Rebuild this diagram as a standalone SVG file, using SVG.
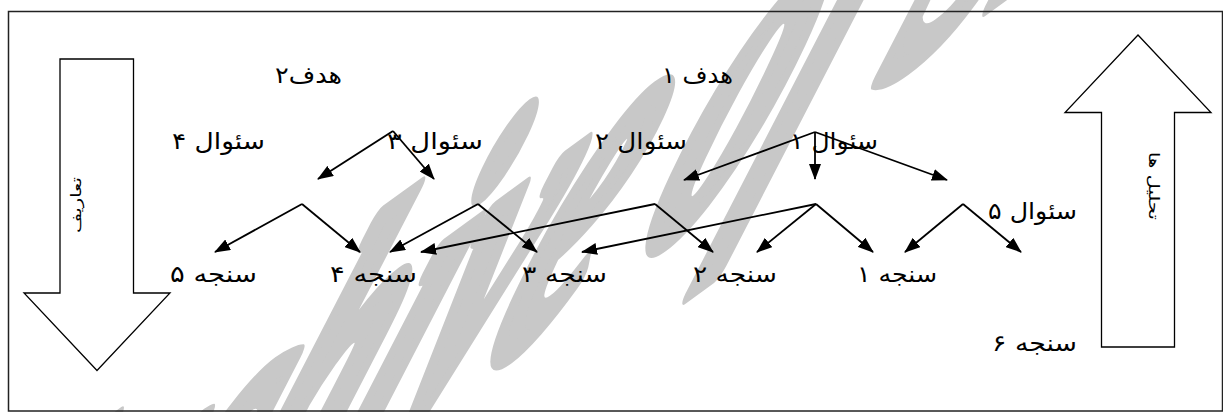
<svg xmlns="http://www.w3.org/2000/svg" width="1223" height="412" viewBox="0 0 1223 412">
<defs>
<marker id="ah" viewBox="0 0 16 12" refX="15" refY="6" markerWidth="16" markerHeight="12" markerUnits="userSpaceOnUse" orient="auto">
<path d="M0,0 L16,6 L0,12 z" fill="#000"/>
</marker>
<clipPath id="cv"><rect x="0" y="0" width="1223" height="412"/></clipPath>
</defs>
<style>
.t{font-family:"DejaVu Sans",sans-serif;font-size:23px;fill:#000;text-anchor:middle}
.v{font-family:"DejaVu Sans",sans-serif;font-size:14px;fill:#000;text-anchor:middle}
.ar{fill:#fff;stroke:#000;stroke-width:1.3}
.c line{stroke:#000;stroke-width:1.8;marker-end:url(#ah)}
.wm{font-family:"Liberation Serif",serif;font-weight:bold;font-style:italic;font-size:100px;fill:#c8c8c8;stroke:#c8c8c8;stroke-width:6;stroke-linejoin:round}
</style>
<rect x="0" y="0" width="1223" height="412" fill="#fff"/>
<g clip-path="url(#cv)">
<text class="wm" transform="matrix(2.217,-1.611,-2.33,4.98,-139,823)" x="0" y="0">Archive of SID</text>
</g>
<rect x="8.5" y="11.5" width="1214" height="399.5" fill="none" stroke="#222" stroke-width="1.5"/>
<g id="arrow-left">
<path class="ar" d="M60,59 H133.5 V293 H170 L97,370.5 L24,293 H60 Z"/>
<text class="v" direction="rtl" transform="translate(81,205) rotate(-90)" textLength="56" lengthAdjust="spacingAndGlyphs">تعاریف</text>
</g>
<g id="arrow-right">
<path class="ar" d="M1138,35 L1211,112.5 H1174.5 V347 H1101.5 V112.5 H1065 Z"/>
<text class="v" direction="rtl" transform="translate(1149,186) rotate(90)" textLength="68" lengthAdjust="spacingAndGlyphs">تحلیل ها</text>
</g>
<g id="goal2"><text class="t" direction="rtl" x="308.5" y="83" textLength="67" lengthAdjust="spacingAndGlyphs">هدف۲</text></g>
<g id="goal1"><text class="t" direction="rtl" x="697.5" y="83" textLength="71" lengthAdjust="spacingAndGlyphs">هدف ۱</text></g>
<g id="q4"><text class="t" direction="rtl" x="218.5" y="149" textLength="93" lengthAdjust="spacingAndGlyphs">سئوال ۴</text></g>
<g id="q3"><text class="t" direction="rtl" x="435" y="149" textLength="96" lengthAdjust="spacingAndGlyphs">سئوال ۳</text></g>
<g id="q2"><text class="t" direction="rtl" x="641" y="149" textLength="92" lengthAdjust="spacingAndGlyphs">سئوال ۲</text></g>
<g id="q1"><text class="t" direction="rtl" x="834" y="149" textLength="88" lengthAdjust="spacingAndGlyphs">سئوال ۱</text></g>
<g id="q5"><text class="t" direction="rtl" x="1032.5" y="219" textLength="89" lengthAdjust="spacingAndGlyphs">سئوال ۵</text></g>
<g id="m5"><text class="t" direction="rtl" x="213.5" y="282" textLength="87" lengthAdjust="spacingAndGlyphs">سنجه ۵</text></g>
<g id="m4"><text class="t" direction="rtl" x="373.5" y="282" textLength="87" lengthAdjust="spacingAndGlyphs">سنجه ۴</text></g>
<g id="m3"><text class="t" direction="rtl" x="564.5" y="282" textLength="85" lengthAdjust="spacingAndGlyphs">سنجه ۳</text></g>
<g id="m2"><text class="t" direction="rtl" x="735" y="282" textLength="84" lengthAdjust="spacingAndGlyphs">سنجه ۲</text></g>
<g id="m1"><text class="t" direction="rtl" x="897" y="282" textLength="80" lengthAdjust="spacingAndGlyphs">سنجه ۱</text></g>
<g id="m6"><text class="t" direction="rtl" x="1034.5" y="351" textLength="85" lengthAdjust="spacingAndGlyphs">سنجه ۶</text></g>
<g id="connectors" class="c">
<line x1="393" y1="131" x2="318" y2="179"/>
<line x1="393" y1="131" x2="434" y2="179"/>
<line x1="815" y1="132" x2="684" y2="180"/>
<line x1="815" y1="132" x2="815" y2="179"/>
<line x1="815" y1="132" x2="947" y2="180"/>
<line x1="302" y1="204" x2="215" y2="252"/>
<line x1="302" y1="204" x2="360" y2="252"/>
<line x1="478" y1="204" x2="390" y2="252"/>
<line x1="478" y1="204" x2="537" y2="252"/>
<line x1="655" y1="204" x2="421" y2="252"/>
<line x1="655" y1="204" x2="713" y2="252"/>
<line x1="816" y1="204" x2="582" y2="252"/>
<line x1="816" y1="204" x2="757" y2="252"/>
<line x1="816" y1="204" x2="873" y2="252"/>
<line x1="963" y1="204" x2="905" y2="252"/>
<line x1="963" y1="204" x2="1021" y2="252"/>
</g>
</svg>
